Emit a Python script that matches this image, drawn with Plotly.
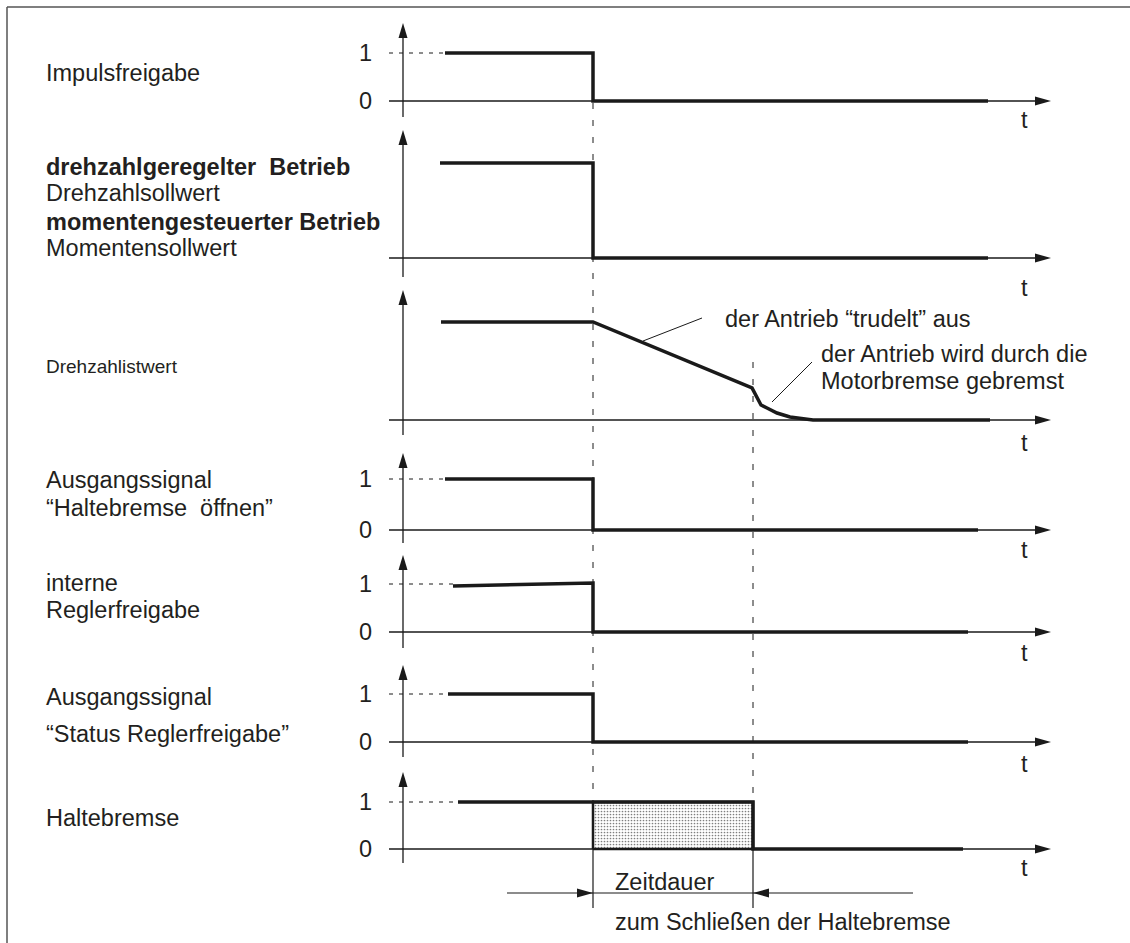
import plotly.graph_objects as go

W, H = 1130, 943

# ---------------- data: time (arbitrary units) and normalised signal values ----------------
t_impuls = [0.42, 1.90, 1.90, 5.85]
v_impuls = [1, 1, 0, 0]

t_sollwert = [0.37, 1.90, 1.90, 5.85]
v_sollwert = [1, 1, 0, 0]

t_istwert = [0.38, 1.90, 3.49, 3.53, 3.58, 3.64, 3.74, 3.87, 4.10, 5.87]
v_istwert = [1, 1, 0.327, 0.255, 0.153, 0.122, 0.071, 0.031, 0, 0]

t_oeffnen = [0.42, 1.90, 1.90, 5.75]
v_oeffnen = [1, 1, 0, 0]

t_intern = [0.50, 1.90, 1.90, 5.65]
v_intern = [0.96, 1.02, 0, 0]

t_status = [0.45, 1.90, 1.90, 5.65]
v_status = [1, 1, 0, 0]

t_halte = [0.55, 3.50, 3.50, 5.60]
v_halte = [1, 1, 0, 0]

t_pulse_off = 1.90      # Impulsfreigabe removed
t_brake_closed = 3.50   # holding brake closed

level_ticks = ["0", "1"]
axis_label = "t"

left_labels = [
    "Impulsfreigabe",
    "<b>drehzahlgeregelter\u00a0 Betrieb</b>",
    "Drehzahlsollwert",
    "<b>momentengesteuerter Betrieb</b>",
    "Momentensollwert",
    "Drehzahlistwert",
    "Ausgangssignal",
    "\u201cHaltebremse\u00a0 öffnen\u201d",
    "interne",
    "Reglerfreigabe",
    "Ausgangssignal",
    "\u201cStatus Reglerfreigabe\u201d",
    "Haltebremse",
]
note_coast = "der Antrieb \u201ctrudelt\u201d aus"
note_brake = ["der Antrieb wird durch die", "Motorbremse gebremst"]
dim_text = ["Zeitdauer", "zum Schließen der Haltebremse"]

# ---------------- layout geometry (pixels) ----------------
left_label_y = [73, 167, 193, 222, 248, 366, 480, 508, 583, 610, 697, 734, 818]
left_label_size = [23.5, 23.5, 23.5, 23.5, 23.5, 19, 23.5, 23.5, 23.5, 23.5, 23.5, 23.5, 23.5]

LEVEL0_PX = [101, 258, 420, 530, 632, 742, 849]
LEVEL1_PX = [53, 163, 322, 479, 584, 694, 802]
TIP_PX = [23, 130, 290, 453, 555, 665, 772]
BOTTOM_PX = [117, 277, 435, 543, 648, 757, 863]
T_LABEL_DY = [19, 30, 23, 20, 21, 22, 19]
HAS_TICKS = [True, False, False, True, True, True, True]

T0_PX = 403
PX_PER_T = 100.0
AXIS_START_T = -0.14
AXIS_END_T = 6.48
TICK_X_PX = 365
LABEL_X_PX = 44

signals = [
    (t_impuls, v_impuls),
    (t_sollwert, v_sollwert),
    (t_istwert, v_istwert),
    (t_oeffnen, v_oeffnen),
    (t_intern, v_intern),
    (t_status, v_status),
    (t_halte, v_halte),
]

INK = "#1a1a1a"
TXT = "#231f20"
FONT = "Liberation Sans, Arial, sans-serif"

fig = go.Figure()
shapes = []
annotations = []


def yname(i):
    return "y" if i == 0 else f"y{i + 1}"


def vval(i, px):
    s = LEVEL0_PX[i] - LEVEL1_PX[i]
    return (LEVEL0_PX[i] - px) / s


def pfrac(px):
    return 1 - px / H


layout_axes = {}
for i in range(7):
    p0, p1 = LEVEL0_PX[i], LEVEL1_PX[i]
    s = p0 - p1
    ax = dict(range=[(p0 - H) / s, p0 / s], domain=[0, 1], visible=False, fixedrange=True)
    if i > 0:
        ax["overlaying"] = "y"
    layout_axes["yaxis" if i == 0 else f"yaxis{i + 1}"] = ax

for i, (tt, vv) in enumerate(signals):
    yr = yname(i)
    # time axis (baseline)
    fig.add_trace(go.Scatter(x=[AXIS_START_T, AXIS_END_T - 0.1], y=[0, 0], yaxis=yr, mode="lines",
                             line=dict(color=INK, width=1.3), hoverinfo="skip", showlegend=False))
    # value axis
    fig.add_trace(go.Scatter(x=[0, 0], y=[vval(i, BOTTOM_PX[i]), vval(i, TIP_PX[i] + 10)], yaxis=yr,
                             mode="lines", line=dict(color=INK, width=1.3), hoverinfo="skip", showlegend=False))
    shapes.append(dict(type="path", xref="x", yref=yr, xsizemode="pixel", ysizemode="pixel",
                       xanchor=0, yanchor=vval(i, TIP_PX[i]), path="M0,0 L-4.5,-15 L4.5,-15 Z",
                       fillcolor=INK, line=dict(width=0)))
    shapes.append(dict(type="path", xref="x", yref=yr, xsizemode="pixel", ysizemode="pixel",
                       xanchor=AXIS_END_T, yanchor=0, path="M0,0 L-16,4.5 L-16,-4.5 Z",
                       fillcolor=INK, line=dict(width=0)))
    if HAS_TICKS[i]:
        fig.add_trace(go.Scatter(x=[AXIS_START_T, tt[0]], y=[1, 1], yaxis=yr, mode="lines",
                                 line=dict(color=INK, width=1, dash="4px,6px"),
                                 hoverinfo="skip", showlegend=False))
        for lv, lab in enumerate(level_ticks):
            annotations.append(dict(x=TICK_X_PX / W, xref="paper", y=lv, yref=yr, text=lab,
                                    showarrow=False, xanchor="center", yanchor="middle",
                                    font=dict(size=23.5, color=TXT, family=FONT)))
    annotations.append(dict(x=(1024 - T0_PX) / PX_PER_T, xref="x",
                            y=pfrac(LEVEL0_PX[i] + T_LABEL_DY[i]), yref="paper", text=axis_label,
                            showarrow=False, xanchor="center", yanchor="middle",
                            font=dict(size=23.5, color=TXT, family=FONT)))
    if i == 6:
        fig.add_trace(go.Scatter(x=[t_pulse_off, t_pulse_off, t_brake_closed, t_brake_closed, t_pulse_off],
                                 y=[0, 1, 1, 0, 0], yaxis=yr, mode="lines", fill="toself",
                                 fillcolor="white",
                                 fillpattern=dict(shape=".", size=3, solidity=0.25, fgcolor="#000",
                                                  bgcolor="white"),
                                 line=dict(color=INK, width=2.5), hoverinfo="skip", showlegend=False))
    fig.add_trace(go.Scatter(x=tt, y=vv, yaxis=yr, mode="lines",
                             line=dict(color=INK, width=3.5), hoverinfo="skip", showlegend=False))

# vertical guide lines
for tx, top_px in [(t_pulse_off, 103), (t_brake_closed, 362)]:
    shapes.append(dict(type="line", xref="x", yref="paper", x0=tx, x1=tx, y0=pfrac(top_px), y1=pfrac(849),
                       line=dict(color=INK, width=1, dash="6px,11px")))
    shapes.append(dict(type="line", xref="x", yref="paper", x0=tx, x1=tx, y0=pfrac(849), y1=pfrac(908),
                       line=dict(color=INK, width=1.2)))

# dimension line
shapes.append(dict(type="line", xref="x", yref="paper", x0=(507 - T0_PX) / PX_PER_T,
                   x1=(913 - T0_PX) / PX_PER_T, y0=pfrac(893), y1=pfrac(893),
                   line=dict(color=INK, width=1.1)))
shapes.append(dict(type="path", xref="x", yref="paper", xsizemode="pixel", ysizemode="pixel",
                   xanchor=t_pulse_off, yanchor=pfrac(893), path="M0,0 L-16,4.5 L-16,-4.5 Z",
                   fillcolor=INK, line=dict(width=0)))
shapes.append(dict(type="path", xref="x", yref="paper", xsizemode="pixel", ysizemode="pixel",
                   xanchor=t_brake_closed, yanchor=pfrac(893), path="M0,0 L16,4.5 L16,-4.5 Z",
                   fillcolor=INK, line=dict(width=0)))

# leader lines for notes (panel 3)
shapes.append(dict(type="line", xref="x", yref="y3", x0=2.40, y0=vval(2, 341), x1=2.99, y1=vval(2, 318),
                   line=dict(color=INK, width=1)))
shapes.append(dict(type="line", xref="x", yref="y3", x0=3.69, y0=vval(2, 402), x1=4.09, y1=vval(2, 362),
                   line=dict(color=INK, width=1)))

# frame
shapes.append(dict(type="line", xref="paper", yref="paper", x0=7 / W, x1=7 / W, y0=pfrac(7), y1=0,
                   line=dict(color="#555", width=1.5)))
shapes.append(dict(type="line", xref="paper", yref="paper", x0=7 / W, x1=1, y0=pfrac(7), y1=pfrac(7),
                   line=dict(color="#555", width=1.5)))

# texts
for txt, ypx, fs in zip(left_labels, left_label_y, left_label_size):
    annotations.append(dict(x=LABEL_X_PX / W, xref="paper", y=pfrac(ypx), yref="paper", text=txt,
                            showarrow=False, xanchor="left", yanchor="middle",
                            font=dict(size=fs, color=TXT, family=FONT)))

annotations.append(dict(x=(723 - T0_PX) / PX_PER_T, xref="x", y=pfrac(319), yref="paper", text=note_coast,
                        showarrow=False, xanchor="left", yanchor="middle",
                        font=dict(size=23.5, color=TXT, family=FONT)))
for txt, ypx in zip(note_brake, [354, 381]):
    annotations.append(dict(x=(819 - T0_PX) / PX_PER_T, xref="x", y=pfrac(ypx), yref="paper", text=txt,
                            showarrow=False, xanchor="left", yanchor="middle",
                            font=dict(size=23.5, color=TXT, family=FONT)))
for txt, ypx in zip(dim_text, [882, 922]):
    annotations.append(dict(x=(613 - T0_PX) / PX_PER_T, xref="x", y=pfrac(ypx), yref="paper", text=txt,
                            showarrow=False, xanchor="left", yanchor="middle",
                            font=dict(size=23.5, color=TXT, family=FONT)))

fig.update_layout(
    width=W, height=H, autosize=False,
    margin=dict(l=0, r=0, t=0, b=0),
    paper_bgcolor="white", plot_bgcolor="white",
    font=dict(family=FONT, color=TXT),
    xaxis=dict(range=[-T0_PX / PX_PER_T, (W - T0_PX) / PX_PER_T], domain=[0, 1], visible=False, fixedrange=True),
    shapes=shapes, annotations=annotations, showlegend=False,
    **layout_axes,
)

fig.write_html("out.html", config={"displayModeBar": False},
               post_script="document.body.style.margin='0';document.body.style.overflow='hidden';")
